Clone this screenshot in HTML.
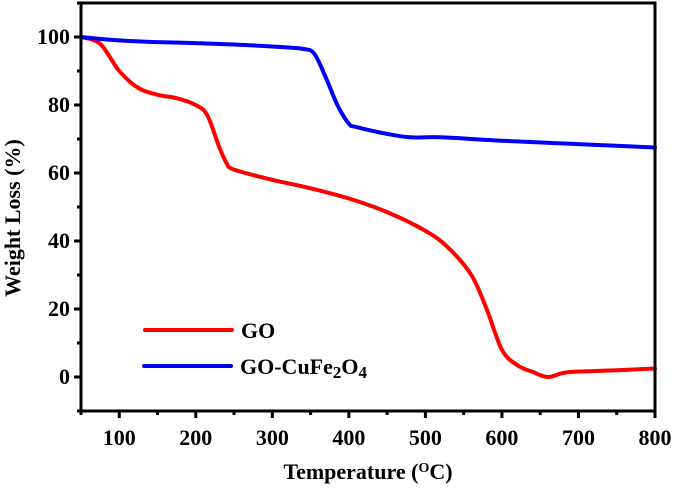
<!DOCTYPE html><html><head><style>body{margin:0;background:#fff}svg{display:block;font-family:"Liberation Serif",serif;font-weight:bold}</style></head><body>
<svg id="c" width="675" height="488"></svg>
<script>
const xTicks=[100,200,300,400,500,600,700,800];
const yTicks=[0,20,40,60,80,100];
const goTemp=[50,75,100,125,150,175,200,215,230,240,250,300,350,400,450,500,530,560,580,600,620,640,660,680,700,750,800];
const goWeight=[100,98,90,85,83,82,80,77,68,63,61,58,55.5,52.5,48.5,43,38,30,20,8,3.5,1.5,0,1.2,1.6,2,2.5];
const cfTemp=[50,100,150,200,250,300,340,355,370,385,400,410,450,480,520,600,700,800];
const cfWeight=[100,99,98.5,98.2,97.8,97.2,96.5,95,88,80,74.5,73.5,71.5,70.5,70.5,69.5,68.5,67.5];
const NS='http://www.w3.org/2000/svg',svg=document.getElementById('c');
const X=v=>81+(v-50)*(655-81)/750, Y=v=>377-v*3.4;
function mk(t,a,txt){const e=document.createElementNS(NS,t);for(const k in a)e.setAttribute(k,a[k]);if(txt!=null)e.textContent=txt;svg.appendChild(e);return e;}
function smooth(xs,ys){const P=xs.map((x,i)=>[X(x),Y(ys[i])]);let d='M'+P[0];for(let i=0;i<P.length-1;i++){const p0=P[Math.max(i-1,0)],p1=P[i],p2=P[i+1],p3=P[Math.min(i+2,P.length-1)];const c1=[p1[0]+(p2[0]-p0[0])/6,p1[1]+(p2[1]-p0[1])/6],c2=[p2[0]-(p3[0]-p1[0])/6,p2[1]-(p3[1]-p1[1])/6];d+='C'+c1+' '+c2+' '+p2;}return d;}
function series(xs,ys,col,name){const p=mk('path',{d:smooth(xs,ys),fill:'none',stroke:col,'stroke-width':4,'stroke-linejoin':'round','stroke-linecap':'round'});

}
series(goTemp,goWeight,'#ff0000','go-line');
series(cfTemp,cfWeight,'#0000ff','go-cufe2o4-line');
const fr=mk('rect',{x:81,y:3,width:574,height:408,fill:'none',stroke:'#000','stroke-width':3});


for(let v=50;v<=800;v+=50){const maj=v%100==0;mk('line',{x1:X(v),x2:X(v),y1:411,y2:maj?418:415,stroke:'#000','stroke-width':3});}
xTicks.forEach(v=>{const t=mk('text',{x:X(v),y:445,'text-anchor':'middle','font-size':22},v);

});
for(let v=-10;v<=110;v+=10){const maj=v%20==0;mk('line',{x1:81,x2:maj?74:77,y1:Y(v),y2:Y(v),stroke:'#000','stroke-width':3});}
yTicks.forEach(v=>{const t=mk('text',{x:70,y:Y(v)+7,'text-anchor':'end','font-size':22},v);

});
</script>
<svg style="position:absolute;left:0;top:0" width="675" height="488">
<text x="368" y="479" text-anchor="middle" font-size="22">Temperature (<tspan baseline-shift="super" font-size="14">O</tspan>C)</text>
<text transform="translate(20,218) rotate(-90)" text-anchor="middle" font-size="22">Weight Loss (%)</text>
<line x1="145" y1="330" x2="232" y2="330" stroke="#ff0000" stroke-width="4" stroke-linecap="round"/>
<text x="241" y="338" font-size="22">GO</text>
<line x1="144" y1="366" x2="231" y2="366" stroke="#0000ff" stroke-width="4" stroke-linecap="round"/>
<text x="240" y="374" font-size="22">GO-CuFe<tspan dy="4" font-size="17">2</tspan><tspan dy="-4">O</tspan><tspan dy="4" font-size="17">4</tspan></text>
</svg>
</body></html>
